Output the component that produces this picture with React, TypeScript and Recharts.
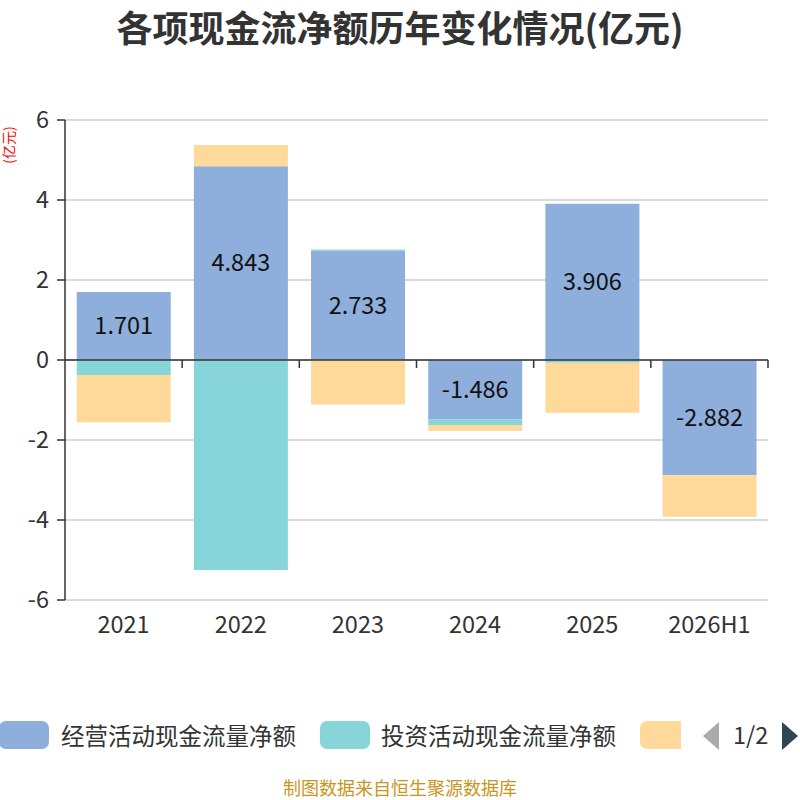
import { BarChart, Bar, XAxis, YAxis, CartesianGrid, ReferenceLine, LabelList } from "recharts";

const years = ["2021", "2022", "2023", "2024", "2025", "2026H1"];
const operating = [1.701, 4.843, 2.733, -1.486, 3.906, -2.882];
const investing = [-0.375, -5.25, 0.03, -0.14, -0.07, 0];
const financing = [-1.18, 0.53, -1.11, -0.15, -1.25, -1.035];
const yTicks = [-6, -4, -2, 0, 2, 4, 6];

const seriesNames = ["经营活动现金流量净额", "投资活动现金流量净额", "筹资活动现金流量净额"];
const colors = ["#8eaedb", "#87d5d9", "#fed99a"];

const data = years.map((year, i) => ({
  year,
  operating: operating[i],
  investing: investing[i],
  financing: financing[i],
}));

const FONT = '"Noto Sans CJK SC", "Noto Sans", sans-serif';

// zero line with echarts-style ticks at category boundaries
const ZeroLine = (props: any) => {
  const { x1, x2, y1 } = props;
  const n = years.length;
  const step = (x2 - x1) / n;
  const ticks = [];
  for (let k = 1; k <= n; k++) {
    const x = x1 + step * k;
    ticks.push(<line key={k} x1={x} x2={x} y1={y1} y2={y1 + 8} stroke="#333" strokeWidth={1.5} />);
  }
  return (
    <g>
      <line x1={x1} x2={x2} y1={y1} y2={y1} stroke="#333" strokeWidth={1.5} />
      {ticks}
    </g>
  );
};

const swatch = (left: number, color: string, width = 50) => (
  <div style={{ position: "absolute", left, top: 0, width, height: 28, borderRadius: 7, background: color }} />
);

const Legend = () => (
  <div
    style={{
      position: "absolute",
      top: 721,
      left: 0,
      width: 800,
      height: 36,
      fontFamily: FONT,
      fontSize: 23.5,
      color: "#333",
    }}
  >
    {swatch(-1, colors[0])}
    <span style={{ position: "absolute", left: 61, top: -3, lineHeight: "34px", whiteSpace: "nowrap" }}>{seriesNames[0]}</span>
    {swatch(320, colors[1])}
    <span style={{ position: "absolute", left: 381, top: -3, lineHeight: "34px", whiteSpace: "nowrap" }}>{seriesNames[1]}</span>
    <div style={{ position: "absolute", left: 640, top: 0, width: 41, height: 28, overflow: "hidden" }}>
      {swatch(0, colors[2])}
    </div>
    <svg style={{ position: "absolute", left: 700, top: -3, overflow: "visible" }} width={100} height={36}>
      <polygon points="19,4 3,18 19,32" fill="#aaa" />
      <text x={33} y={26} fontSize={23.5} fill="#333" fontFamily={FONT}>1/2</text>
      <polygon points="82,4 98,18 82,32" fill="#2f4554" />
    </svg>
  </div>
);

export default function App() {
  return (
    <div style={{ position: "absolute", left: 0, top: 0, width: 800, height: 800, background: "#fff", overflow: "hidden", fontFamily: FONT }}>
      <div
        style={{
          position: "absolute",
          top: 3,
          left: 0,
          width: 800,
          textAlign: "center",
          fontSize: 36,
          lineHeight: "46px",
          fontWeight: "bold",
          color: "#333",
        }}
      >
        各项现金流净额历年变化情况(亿元)
      </div>
      <div
        style={{
          position: "absolute",
          left: 1,
          top: 170,
          width: 50,
          height: 14,
          lineHeight: "14px",
          textAlign: "center",
          transformOrigin: "0 0",
          transform: "rotate(-90deg)",
          color: "#ff0000",
          fontSize: 14,
        }}
      >
        (亿元)
      </div>
      <div style={{ position: "absolute", left: 0, top: 0 }}>
        <BarChart
          width={800}
          height={800}
          data={data}
          stackOffset="sign"
          barCategoryGap="10%"
          margin={{ top: 120, right: 32, bottom: 170, left: 0 }}
        >
          <CartesianGrid horizontal vertical={false} stroke="#ccc" strokeWidth={1.5} />
          <XAxis
            dataKey="year"
            axisLine={false}
            tickLine={false}
            height={30}
            tick={{ fill: "#333", fontSize: 23.5, fontFamily: FONT }}
            tickMargin={10}
          />
          <YAxis
            domain={[-6, 6]}
            ticks={yTicks}
            width={65}
            axisLine={{ stroke: "#333", strokeWidth: 1.5 }}
            tickLine={{ stroke: "#333", strokeWidth: 1.5 }}
            tickSize={8}
            tick={{ fill: "#333", fontSize: 23.5, fontFamily: FONT }}
            tickMargin={8}
          />
          <Bar dataKey="operating" name={seriesNames[0]} stackId="a" fill={colors[0]} isAnimationActive={false}>
            <LabelList dataKey="operating" position="center" fill="#111" fontSize={23.5} fontFamily={FONT} />
          </Bar>
          <Bar dataKey="investing" name={seriesNames[1]} stackId="a" fill={colors[1]} isAnimationActive={false} />
          <Bar dataKey="financing" name={seriesNames[2]} stackId="a" fill={colors[2]} isAnimationActive={false} />
          <ReferenceLine y={0} shape={ZeroLine} />
        </BarChart>
      </div>
      <Legend />
      <div
        style={{
          position: "absolute",
          top: 776,
          left: 0,
          width: 800,
          textAlign: "center",
          fontSize: 18,
          lineHeight: "22px",
          color: "#c8961e",
        }}
      >
        制图数据来自恒生聚源数据库
      </div>
    </div>
  );
}
